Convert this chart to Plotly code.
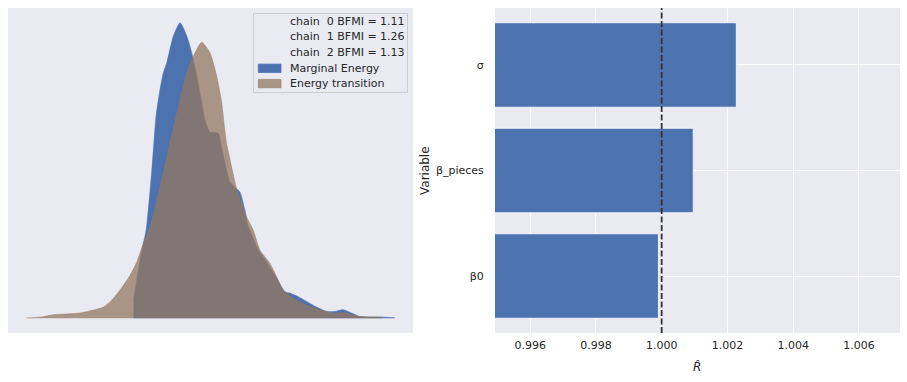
import plotly.graph_objects as go

# ---------------- data ----------------
# Marginal energy density (relative energy, density scaled so the peak is 1)
marginal_energy = [-4.67, -4.17, -3.83, -3.40, -2.83, -2.40, -2.00, -1.67, -1.33, -0.67,
                   0.00, 0.67, 1.17, 1.80, 2.50, 3.00, 3.50, 3.83, 4.17, 4.67,
                   5.00, 5.67, 6.00, 6.50, 6.83, 7.00, 7.67, 8.67, 9.50, 10.50,
                   11.00, 11.83, 12.67, 13.67, 14.67, 15.50, 16.33, 17.17, 18.00, 20.00, 21.50]
marginal_density = [0.062, 0.163, 0.231, 0.298, 0.500, 0.685, 0.776, 0.831, 0.865, 0.955,
                    1.000, 0.955, 0.898, 0.798, 0.671, 0.629, 0.629, 0.625, 0.578, 0.500,
                    0.461, 0.438, 0.427, 0.365, 0.309, 0.298, 0.242, 0.191, 0.146, 0.090,
                    0.085, 0.073, 0.057, 0.038, 0.023, 0.023, 0.029, 0.018, 0.006, 0.004, 0.002]

# Energy transition density
transition_energy = [-15.40, -14.00, -12.67, -10.00, -7.67, -6.83, -6.00, -5.00, -4.33, -3.67,
                     -3.00, -2.17, -1.33, -0.50, 0.00, 0.67, 1.33, 2.17, 3.00, 3.67,
                     4.17, 4.40, 4.67, 5.17, 5.67, 6.10, 6.60, 7.33, 8.00, 9.00,
                     9.67, 10.33, 11.33, 12.67, 14.00, 15.33, 16.67, 18.00, 20.27]
transition_density = [0.001, 0.004, 0.012, 0.018, 0.038, 0.062, 0.096, 0.146, 0.191, 0.253,
                      0.309, 0.423, 0.545, 0.668, 0.742, 0.831, 0.887, 0.934, 0.898, 0.820,
                      0.730, 0.662, 0.591, 0.511, 0.438, 0.399, 0.348, 0.298, 0.231, 0.186,
                      0.141, 0.096, 0.068, 0.045, 0.029, 0.018, 0.018, 0.006, 0.004]

chain_labels = ["chain  0 BFMI = 1.11", "chain  1 BFMI = 1.26", "chain  2 BFMI = 1.13"]
series_labels = ["Marginal Energy", "Energy transition"]

variables = ["β0", "β_pieces", "σ"]
rhat_values = [0.9999, 1.00096, 1.00227]
rhat_ticks = [0.996, 0.998, 1.000, 1.002, 1.004, 1.006]

# ---------------- style ----------------
W, H = 907, 382
BG = "#eaeaf2"
BLUE = "#4c72b0"
BROWN_FILL = "rgba(147,120,96,0.75)"
TEXT = "#262626"
FONT = "DejaVu Sans"

def fx(p):
    return p / W

def fy(p):
    return 1 - p / H

fig = go.Figure()

fig.add_trace(go.Scatter(
    x=marginal_energy, y=marginal_density, mode="lines", fill="tozeroy",
    line=dict(color=BLUE, width=0.6, shape="spline", smoothing=0.6),
    fillcolor=BLUE, showlegend=False, xaxis="x", yaxis="y", hoverinfo="skip"))
fig.add_trace(go.Scatter(
    x=transition_energy, y=transition_density, mode="lines", fill="tozeroy",
    line=dict(color=BROWN_FILL, width=0.6, shape="spline", smoothing=0.6),
    fillcolor=BROWN_FILL, showlegend=False, xaxis="x", yaxis="y", hoverinfo="skip"))

fig.add_trace(go.Bar(
    x=rhat_values, y=variables, orientation="h", width=0.8,
    marker=dict(color=BLUE, line=dict(color="white", width=0.8)),
    showlegend=False, xaxis="x2", yaxis="y2", base=0))

emin = min(min(marginal_energy), min(transition_energy))
emax = max(max(marginal_energy), max(transition_energy))
pad = 0.05 * (emax - emin)

ydom = [fy(333), fy(8)]
fig.update_layout(
    width=W, height=H,
    margin=dict(l=0, r=0, t=0, b=0),
    paper_bgcolor="white", plot_bgcolor=BG,
    font=dict(family=FONT, color=TEXT, size=11),
    bargap=0.2,
    xaxis=dict(domain=[fx(8), fx(413)], range=[emin - pad, emax + pad],
               showgrid=False, zeroline=False, showticklabels=False, ticks="",
               showline=False),
    yaxis=dict(domain=ydom, range=[-0.05, 1.05], showgrid=False, zeroline=False,
               showticklabels=False, ticks="", showline=False),
    xaxis2=dict(domain=[fx(495), fx(900)], range=[0.99493, 1.00725], anchor="y2",
                tickvals=rhat_ticks, ticktext=[f"{v:.3f}" for v in rhat_ticks],
                showgrid=True, gridcolor="white", gridwidth=1, zeroline=False,
                ticks="outside", ticklen=2, tickcolor="rgba(0,0,0,0)",
                tickfont=dict(size=11, color=TEXT, family=FONT), showline=False),
    yaxis2=dict(domain=ydom, anchor="x2", type="category", categoryorder="array",
                categoryarray=variables, range=[-0.54, 2.54],
                showgrid=True, gridcolor="white", gridwidth=1, zeroline=False,
                ticks="outside", ticklen=8, tickcolor="rgba(0,0,0,0)",
                tickfont=dict(size=11, color=TEXT, family=FONT), showline=False),
)

# reference line at R-hat = 1
fig.add_shape(type="line", xref="x2", yref="y2 domain", x0=1.0, x1=1.0, y0=0, y1=1,
              line=dict(color="#333333", width=1.8, dash="6px,2.5px"), layer="above")

# axis titles
fig.add_annotation(text="Variable", xref="paper", yref="paper", x=fx(425), y=fy(171),
                   showarrow=False, textangle=-90, font=dict(size=12, color=TEXT, family=FONT),
                   xanchor="center", yanchor="middle")
fig.add_annotation(text="<i>R̂</i>", xref="paper", yref="paper", x=fx(697), y=fy(367),
                   showarrow=False, font=dict(size=12, color=TEXT, family=FONT),
                   xanchor="center", yanchor="middle")

# legend (drawn manually to match compact matplotlib spacing)
fig.add_shape(type="rect", xref="paper", yref="paper", x0=fx(253.5), x1=fx(407.5),
              y0=fy(92.5), y1=fy(13.5), line=dict(color="#cccccc", width=1),
              fillcolor="rgba(234,234,242,0.8)", layer="above")
row_y = [21.7, 37.0, 52.5, 68.3, 83.6]
for lab, yy in zip(chain_labels + series_labels, row_y):
    fig.add_annotation(text=lab, xref="paper", yref="paper", x=fx(288), y=fy(yy),
                       showarrow=False, xanchor="left", yanchor="middle",
                       font=dict(size=11, color=TEXT, family=FONT))
for col, yy in zip([BLUE, BROWN_FILL], row_y[3:]):
    fig.add_shape(type="rect", xref="paper", yref="paper", x0=fx(258.3), x1=fx(281),
                  y0=fy(yy + 4.2), y1=fy(yy - 4.2), line=dict(color=col, width=0.8),
                  fillcolor=col, layer="above")

fig.write_html("out.html", config={"displayModeBar": False},
               post_script="document.body.style.margin='0';document.body.style.overflow='hidden';")
